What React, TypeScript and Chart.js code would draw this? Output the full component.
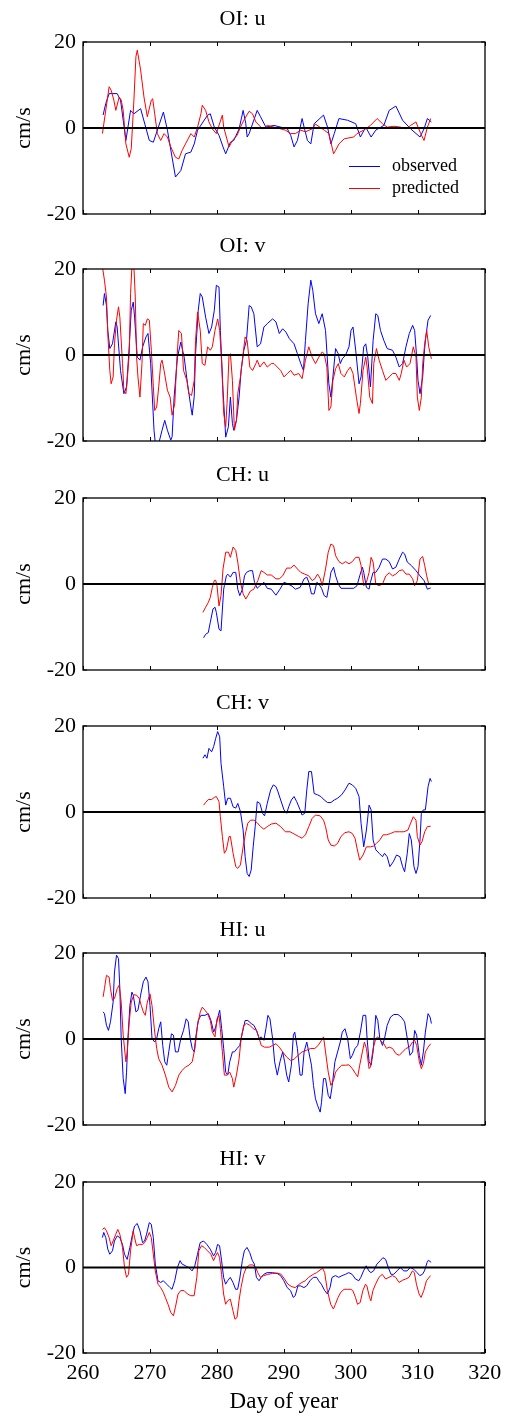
import React, { useEffect, useRef } from "react";
import { Chart, registerables } from "chart.js";

Chart.register(...registerables);

// ---------- data (day of year, cm/s) ----------
const panelTitles = ["OI: u", "OI: v", "CH: u", "CH: v", "HI: u", "HI: v"];
const seriesLabels = ["observed", "predicted"];
const xTickValues = [260, 270, 280, 290, 300, 310, 320];
const yTickValues = [-20, 0, 20];

const oiuObs: [number, number][] = [[263.0,3.0],[263.4,5.7],[263.9,8.0],[265.1,8.0],[265.6,6.5],[266.4,-2.9],[267.1,4.1],[267.6,3.3],[268.6,4.5],[269.9,-2.9],[270.5,-3.3],[272.0,3.7],[272.6,-0.5],[273.8,-11.4],[274.6,-9.9],[275.3,-6.0],[276.1,-5.6],[276.6,-3.7],[277.1,-0.5],[278.6,3.0],[279.0,3.3],[279.6,0.2],[280.3,-1.7],[280.9,-4.4],[281.3,-6.0],[282.0,-3.3],[282.5,-2.9],[283.3,-0.2],[283.9,4.1],[284.3,1.0],[284.5,-2.1],[284.8,-1.3],[286.0,4.1],[286.5,2.6],[287.3,0.2],[288.5,0.6],[290.5,-0.2],[291.0,-1.7],[291.5,-4.4],[292.0,-2.9],[292.7,2.2],[293.0,0.2],[293.5,-2.9],[294.0,-3.7],[294.5,1.0],[295.9,3.0],[296.5,0.2],[297.0,-3.7],[297.5,-1.3],[298.2,2.2],[299.5,1.8],[300.7,1.0],[301.4,-2.1],[302.2,0.2],[303.0,-2.1],[303.7,-0.5],[304.9,0.6],[305.7,4.1],[306.7,5.1],[307.7,1.8],[308.9,-0.2],[310.3,-2.1],[310.9,-0.2],[311.4,2.2],[312.0,1.4]];
const oiuPred: [number, number][] = [[262.9,-1.3],[263.9,9.6],[264.2,8.8],[264.6,6.5],[264.9,4.1],[265.4,7.2],[265.7,6.5],[266.0,4.1],[266.4,-3.7],[266.9,-6.8],[267.2,-4.8],[267.6,6.5],[267.9,16.6],[268.1,18.1],[268.6,13.5],[269.1,7.2],[269.6,2.6],[270.2,6.5],[270.4,6.8],[270.7,3.3],[271.1,-1.3],[271.6,-2.9],[272.1,-1.3],[272.6,-2.1],[273.1,-4.4],[273.8,-6.8],[274.3,-7.2],[274.8,-5.2],[275.3,-3.7],[276.1,-1.3],[276.6,-2.1],[277.1,0.2],[277.6,3.3],[277.8,5.3],[278.3,4.1],[278.8,1.4],[279.3,-0.2],[279.9,-1.3],[280.8,3.0],[281.0,0.2],[281.8,-4.4],[282.3,-2.9],[283.0,-1.7],[283.5,0.2],[284.0,1.8],[284.8,3.9],[285.3,3.3],[285.8,1.4],[286.8,-0.2],[287.5,0.6],[288.5,0.2],[289.5,-0.2],[290.2,-0.5],[291.0,-1.3],[291.7,-1.3],[292.5,-0.5],[293.2,-0.9],[294.2,-0.2],[294.7,0.9],[296.0,-0.5],[296.7,-1.3],[297.4,-6.0],[297.7,-5.2],[298.2,-3.7],[299.0,-2.5],[300.4,-2.1],[300.9,-1.3],[301.9,-0.5],[302.9,0.6],[303.9,2.2],[304.7,1.0],[305.4,0.2],[306.4,0.4],[307.4,0.2],[308.2,-0.2],[308.9,0.6],[309.7,1.4],[310.4,-1.3],[310.9,-2.9],[311.4,0.2],[311.9,2.2]];

const oivObs: [number, number][] = [[263.0,11.5],[263.2,14.3],[263.5,11.5],[263.7,5.7],[264.0,1.5],[264.4,2.6],[264.9,7.7],[265.1,6.5],[265.6,-3.6],[266.1,-9.0],[266.5,-7.4],[266.9,1.9],[267.2,10.4],[267.5,12.3],[267.7,8.8],[268.1,-0.5],[268.5,-1.2],[268.9,1.9],[269.4,4.2],[269.7,5.0],[270.1,-2.0],[270.6,-17.5],[270.8,-20.6],[271.3,-20.6],[271.8,-17.5],[272.2,-15.2],[272.6,-17.5],[273.1,-19.8],[273.3,-19.0],[273.6,-9.8],[274.1,-0.5],[274.6,3.0],[275.1,-0.5],[275.6,-6.7],[276.1,-12.1],[276.3,-14.0],[276.6,-9.6],[276.8,0.3],[277.2,10.4],[277.5,14.3],[277.8,13.5],[278.3,8.8],[278.8,5.0],[279.2,6.5],[279.6,10.4],[279.9,16.2],[280.3,15.8],[280.5,5.7],[280.9,-8.2],[281.3,-19.1],[281.7,-16.7],[282.0,-9.8],[282.3,-15.9],[282.5,-17.5],[282.9,-15.2],[283.3,-9.8],[283.6,-3.6],[284.0,1.1],[284.4,3.4],[284.8,11.5],[285.1,11.2],[285.5,9.6],[286.0,1.9],[286.5,2.6],[287.0,6.5],[287.5,7.3],[288.3,8.4],[288.8,7.7],[289.3,5.0],[289.8,6.1],[290.3,5.3],[290.8,3.8],[291.5,2.6],[292.0,0.3],[292.5,-2.0],[292.9,-3.6],[293.2,3.4],[293.6,11.9],[294.0,17.4],[294.3,15.0],[294.7,9.6],[295.2,7.3],[295.7,9.6],[296.2,5.7],[296.7,-6.7],[297.0,-9.8],[297.3,-5.1],[297.7,1.5],[298.1,0.3],[298.4,-2.0],[298.7,-0.9],[299.2,0.0],[299.7,1.9],[300.0,5.7],[300.3,6.5],[300.7,1.1],[301.2,-6.7],[301.5,-5.1],[301.9,1.9],[302.2,2.6],[302.5,-0.5],[302.9,-7.4],[303.3,3.4],[303.7,9.6],[304.0,9.2],[304.4,5.7],[304.9,3.4],[305.4,1.5],[306.2,1.1],[306.7,-0.5],[307.2,-2.8],[307.7,-2.0],[308.2,1.9],[308.7,5.0],[309.2,6.9],[309.5,5.7],[309.8,-0.5],[310.0,-5.9],[310.3,-9.0],[310.7,-5.1],[310.9,-0.5],[311.1,3.4],[311.5,8.1],[311.9,9.2]];
const oivPred: [number, number][] = [[262.9,20.5],[263.2,17.4],[263.5,13.5],[263.7,5.0],[264.0,-3.6],[264.2,-6.7],[264.5,-5.1],[264.7,2.6],[265.0,8.1],[265.3,11.2],[265.5,8.8],[265.9,-2.0],[266.1,-8.2],[266.4,-9.0],[266.6,-5.9],[266.9,0.3],[267.1,14.3],[267.3,20.5],[267.6,20.5],[267.8,13.5],[268.0,-0.5],[268.2,-5.1],[268.5,-9.8],[268.8,-2.0],[269.0,7.3],[269.3,6.9],[269.6,8.4],[269.9,8.1],[270.2,1.1],[270.5,-7.4],[270.7,-12.9],[271.0,-12.1],[271.3,-7.4],[271.6,-2.0],[271.8,-1.2],[272.1,-3.6],[272.6,-8.2],[273.0,-9.8],[273.3,-14.0],[273.7,-11.3],[274.0,-1.2],[274.3,5.7],[274.7,5.0],[275.0,-3.6],[275.5,-5.9],[275.8,-9.0],[276.2,-9.4],[276.6,-5.9],[276.8,3.4],[277.1,10.0],[277.5,5.7],[277.8,-2.0],[278.2,-2.4],[278.6,1.9],[279.0,1.1],[279.3,1.9],[279.7,5.7],[280.1,8.4],[280.4,5.7],[280.7,-2.0],[281.0,-13.6],[281.3,-16.7],[281.5,-11.3],[281.8,0.0],[282.0,0.3],[282.3,-5.9],[282.6,-17.5],[282.9,-15.2],[283.1,-9.0],[283.5,-5.1],[283.9,0.3],[284.2,4.2],[284.5,3.4],[284.9,-2.8],[285.3,-3.6],[285.8,-2.0],[286.0,-1.2],[286.4,-2.8],[287.0,-1.6],[287.5,-2.8],[288.1,-2.0],[288.5,-2.0],[289.0,-2.8],[289.5,-3.6],[290.0,-5.1],[290.5,-4.3],[291.0,-3.6],[291.5,-4.7],[292.2,-4.3],[292.7,-5.5],[293.2,-1.2],[293.7,1.9],[294.2,-0.5],[294.7,-2.0],[295.2,-0.5],[295.7,0.7],[296.0,0.3],[296.4,-2.8],[296.7,-12.9],[297.0,-12.1],[297.3,-5.9],[297.7,-3.2],[298.1,-2.0],[298.5,-4.3],[299.0,-5.1],[299.5,-3.6],[299.9,-2.8],[300.3,-4.3],[300.8,-9.8],[301.2,-13.6],[301.4,-11.3],[301.8,-3.6],[302.2,-0.5],[302.4,-2.8],[302.8,-9.8],[303.2,-11.3],[303.4,-2.0],[303.8,1.5],[304.2,-1.2],[304.7,-3.6],[305.2,-5.9],[305.7,-5.1],[306.2,-4.3],[306.7,-4.3],[307.2,-5.9],[307.5,-4.3],[307.9,-1.2],[308.3,-2.8],[308.8,-2.0],[309.3,1.9],[309.7,-0.5],[309.9,-9.8],[310.2,-12.9],[310.5,-9.8],[310.7,-2.0],[311.0,2.6],[311.3,5.7],[311.6,1.9],[312.0,-0.9]];

const chuObs: [number, number][] = [[278.0,-12.5],[278.3,-11.7],[278.7,-11.3],[279.0,-8.9],[279.4,-5.8],[279.7,-5.4],[279.9,-6.6],[280.3,-10.5],[280.6,-10.9],[281.0,-1.2],[281.1,-0.4],[281.4,1.9],[281.6,2.3],[282.0,1.6],[282.4,2.7],[282.8,2.7],[283.1,-1.2],[283.4,-2.7],[283.8,-1.2],[284.1,1.9],[284.4,2.7],[284.9,3.1],[285.3,3.1],[285.6,0.4],[286.0,-1.0],[286.4,-0.4],[287.0,0.4],[287.5,-1.0],[288.1,-1.2],[288.8,-2.6],[289.4,-1.2],[290.0,0.4],[290.6,0.0],[291.2,-0.5],[291.7,-1.2],[292.4,-0.8],[293.0,1.2],[293.4,1.6],[293.7,0.4],[294.1,-2.3],[294.5,-2.3],[294.9,0.4],[295.2,0.0],[295.6,-1.0],[296.0,-2.7],[296.4,-3.1],[296.7,-0.4],[297.0,2.7],[297.4,3.9],[297.7,1.9],[298.1,0.0],[298.5,-1.0],[299.7,-1.0],[300.4,-1.0],[300.9,-0.4],[301.3,1.9],[301.7,3.9],[301.9,2.7],[302.3,-0.8],[302.7,-1.2],[302.9,0.4],[303.3,2.7],[303.7,2.7],[304.2,3.9],[304.7,5.8],[305.2,5.8],[305.7,5.2],[306.2,3.5],[306.7,3.9],[307.2,5.8],[307.7,7.4],[308.0,7.0],[308.4,5.1],[309.0,4.3],[309.7,3.1],[310.3,1.9],[310.9,0.8],[311.4,-1.2],[311.9,-0.9]];
const chuPred: [number, number][] = [[277.9,-6.6],[278.3,-5.4],[278.7,-4.3],[279.0,-3.1],[279.3,-0.8],[279.6,0.8],[279.8,0.9],[280.0,-0.4],[280.3,-5.1],[280.6,-2.7],[280.9,3.5],[281.3,7.4],[281.7,7.4],[282.0,6.2],[282.4,8.6],[282.8,7.8],[283.1,5.1],[283.5,0.4],[283.9,-2.3],[284.3,-3.5],[284.6,-2.7],[285.0,-1.6],[285.5,-1.2],[286.1,0.8],[286.6,3.1],[287.0,2.7],[287.5,2.1],[288.1,2.1],[288.8,1.2],[289.3,1.2],[289.8,1.9],[290.4,3.7],[291.0,3.7],[291.5,4.4],[292.0,3.5],[292.5,2.7],[293.1,2.3],[293.7,1.9],[294.2,0.8],[294.6,1.2],[295.0,2.3],[295.4,1.3],[295.7,-0.4],[296.2,3.5],[296.6,7.4],[297.0,9.3],[297.4,8.9],[297.7,6.6],[298.2,5.2],[298.7,4.7],[299.2,5.2],[299.7,4.7],[300.2,5.2],[300.7,6.2],[301.2,6.2],[301.5,4.3],[301.9,-0.4],[302.3,0.4],[302.7,2.7],[303.0,6.2],[303.3,5.1],[303.7,0.0],[304.2,-0.4],[304.7,0.0],[305.2,1.9],[305.7,2.6],[306.2,1.9],[306.7,2.3],[307.2,3.1],[307.7,3.3],[308.2,2.3],[308.7,2.3],[309.2,1.2],[309.5,-0.4],[309.9,0.8],[310.3,5.8],[310.7,6.4],[311.0,4.3],[311.3,1.9],[311.6,0.0],[311.9,0.2]];

const chvObs: [number, number][] = [[277.9,12.5],[278.2,13.3],[278.5,12.5],[278.8,14.8],[279.2,14.0],[279.5,15.2],[279.8,17.1],[280.1,18.7],[280.4,17.5],[280.6,11.3],[281.0,5.9],[281.3,1.6],[281.6,3.2],[282.0,3.2],[282.4,1.2],[282.8,0.9],[283.1,2.0],[283.5,0.1],[283.9,-4.2],[284.2,-10.4],[284.5,-14.3],[284.8,-15.0],[285.1,-13.5],[285.4,-8.1],[285.7,-3.4],[286.0,2.4],[286.4,2.0],[286.8,-0.3],[287.1,-0.9],[287.5,2.0],[288.0,5.1],[288.4,6.3],[288.8,5.9],[289.1,4.7],[289.5,2.8],[290.0,0.5],[290.4,-0.3],[290.7,1.2],[291.1,2.8],[291.5,3.6],[291.9,2.4],[292.4,0.5],[292.7,-0.7],[293.1,-0.3],[293.4,5.1],[293.7,9.4],[294.1,9.4],[294.5,4.3],[295.0,4.0],[295.5,3.6],[296.0,2.8],[296.5,2.2],[297.0,2.2],[297.5,2.8],[298.0,3.2],[298.6,4.0],[299.1,5.1],[299.7,6.7],[300.2,6.3],[300.7,5.5],[301.2,3.6],[301.5,-2.6],[301.9,-8.1],[302.3,-4.2],[302.7,1.6],[303.0,0.5],[303.3,-6.5],[303.7,-8.8],[304.2,-9.6],[304.7,-10.4],[305.0,-9.6],[305.4,-10.4],[305.8,-12.7],[306.3,-11.6],[306.8,-10.0],[307.3,-10.4],[307.7,-12.7],[308.0,-13.9],[308.4,-9.6],[308.7,-5.0],[309.0,-6.5],[309.4,-12.7],[309.7,-14.3],[310.0,-12.7],[310.3,-6.5],[310.5,-0.3],[310.8,0.5],[311.1,0.5],[311.5,5.9],[311.8,7.8],[312.0,7.1]];
const chvPred: [number, number][] = [[278.0,1.6],[278.3,2.2],[278.7,2.9],[279.2,2.9],[279.6,3.4],[279.9,3.6],[280.3,2.4],[280.5,-1.1],[280.8,-5.7],[281.1,-9.6],[281.4,-8.8],[281.8,-5.7],[282.0,-5.7],[282.4,-9.6],[282.8,-12.7],[283.1,-13.1],[283.5,-12.3],[283.9,-8.1],[284.3,-4.6],[284.6,-2.6],[285.0,-1.9],[285.5,-1.9],[286.0,-2.5],[286.5,-3.4],[287.0,-4.0],[287.5,-3.4],[288.1,-2.8],[288.8,-2.6],[289.5,-3.4],[290.2,-4.6],[290.9,-4.6],[291.5,-5.1],[292.2,-5.7],[292.7,-6.1],[293.2,-5.3],[293.7,-3.4],[294.2,-1.5],[294.7,-0.7],[295.4,-0.9],[295.9,-1.9],[296.2,-3.4],[296.6,-6.5],[297.0,-7.7],[297.5,-7.9],[298.0,-7.3],[298.5,-5.7],[299.1,-4.8],[299.7,-4.6],[300.2,-5.0],[300.6,-6.1],[300.9,-8.4],[301.3,-11.2],[301.8,-10.0],[302.3,-8.1],[302.9,-8.1],[303.4,-7.9],[303.8,-7.3],[304.3,-6.5],[304.8,-5.3],[305.3,-5.3],[305.9,-5.0],[306.5,-4.6],[307.2,-4.6],[307.9,-4.6],[308.5,-4.2],[308.9,-2.6],[309.3,-1.1],[309.7,-1.9],[309.9,-5.7],[310.3,-7.7],[310.6,-6.9],[311.0,-4.6],[311.4,-3.4],[311.9,-3.3]];

const hiuObs: [number, number][] = [[263.0,6.3],[263.2,5.9],[263.5,3.2],[263.8,2.0],[264.1,4.0],[264.5,8.6],[264.7,15.6],[265.0,19.5],[265.3,18.7],[265.5,11.7],[265.7,0.1],[266.0,-9.2],[266.3,-12.7],[266.5,-7.7],[266.7,0.0],[267.0,7.8],[267.3,10.9],[267.5,10.2],[267.9,6.3],[268.2,6.7],[268.6,10.2],[269.0,13.3],[269.4,14.4],[269.7,13.3],[270.0,7.8],[270.3,0.1],[270.7,-0.7],[271.0,0.1],[271.3,2.4],[271.6,4.0],[271.9,-1.5],[272.2,-5.3],[272.5,-6.1],[272.8,-3.0],[273.2,1.2],[273.5,0.9],[273.8,-3.0],[274.2,-3.0],[274.6,0.1],[275.0,2.0],[275.4,4.7],[275.7,4.0],[276.0,0.1],[276.3,-2.2],[276.6,-3.0],[276.8,0.1],[277.2,4.3],[277.6,5.5],[278.2,5.5],[278.7,5.9],[279.1,4.3],[279.5,1.6],[279.8,2.8],[280.2,5.5],[280.4,6.7],[280.7,2.4],[281.0,-2.2],[281.3,-7.7],[281.6,-8.4],[281.9,-5.3],[282.3,-3.0],[282.6,-3.0],[283.0,-2.2],[283.4,-1.5],[283.8,1.6],[284.2,4.3],[284.6,4.3],[285.1,3.6],[285.5,3.2],[285.9,2.0],[286.3,0.1],[286.6,0.5],[287.0,-0.3],[287.3,2.4],[287.6,5.5],[287.9,4.7],[288.3,0.1],[288.6,-5.3],[289.0,-8.4],[289.4,-5.3],[289.8,-3.0],[290.1,-5.3],[290.4,-8.4],[290.7,-10.0],[291.1,-6.1],[291.4,0.9],[291.6,1.6],[292.0,-2.2],[292.4,-8.4],[292.7,-8.4],[293.0,-3.0],[293.4,-0.7],[293.7,-3.0],[294.1,-6.1],[294.4,-10.8],[294.7,-13.9],[295.0,-15.4],[295.4,-17.0],[295.6,-14.7],[295.9,-9.2],[296.2,-9.2],[296.6,-13.1],[296.9,-13.9],[297.2,-10.8],[297.6,-5.3],[298.0,-3.0],[298.4,-0.7],[298.7,1.6],[299.1,2.4],[299.5,0.1],[299.9,-4.6],[300.2,-3.8],[300.6,-2.2],[301.0,-1.5],[301.4,1.6],[301.8,5.5],[302.2,5.5],[302.4,0.1],[302.7,-5.3],[303.0,-6.1],[303.3,-3.0],[303.7,5.5],[304.0,4.3],[304.3,0.1],[304.7,-1.5],[305.0,0.1],[305.4,3.2],[305.9,5.1],[306.4,5.7],[307.0,5.7],[307.5,5.1],[308.0,4.0],[308.4,0.1],[308.8,-3.8],[309.2,-3.0],[309.5,2.0],[309.8,0.9],[310.2,-3.8],[310.5,-6.1],[310.8,-3.0],[311.1,1.6],[311.5,5.9],[311.8,5.1],[312.0,3.6]];
const hiuPred: [number, number][] = [[263.0,9.8],[263.2,11.7],[263.5,14.8],[263.9,14.4],[264.1,11.7],[264.4,9.0],[264.7,9.4],[265.1,11.7],[265.4,12.5],[265.7,8.6],[266.0,0.9],[266.4,-5.3],[266.6,-3.0],[266.9,4.0],[267.2,8.6],[267.6,10.3],[268.0,10.2],[268.4,9.4],[268.7,7.8],[269.0,6.3],[269.3,5.5],[269.6,8.6],[270.0,10.5],[270.3,7.8],[270.7,1.6],[271.0,-2.2],[271.3,-4.6],[271.8,-6.1],[272.3,-8.4],[272.8,-11.2],[273.3,-12.3],[273.8,-10.8],[274.3,-8.4],[274.8,-7.3],[275.3,-6.5],[275.8,-6.1],[276.3,-5.3],[276.7,-2.2],[277.1,3.2],[277.5,6.3],[277.8,7.4],[278.2,6.7],[278.6,5.9],[279.0,4.3],[279.3,1.6],[279.7,0.5],[280.0,4.7],[280.3,5.5],[280.5,2.4],[280.8,-3.0],[281.1,-8.4],[281.5,-8.4],[281.9,-7.7],[282.3,-9.2],[282.5,-11.2],[282.9,-8.4],[283.3,-4.6],[283.6,0.1],[284.0,3.2],[284.4,3.6],[284.9,3.2],[285.4,2.4],[285.9,2.0],[286.3,0.1],[286.6,-1.5],[287.1,-1.9],[287.8,-1.9],[288.3,-1.5],[288.8,-1.1],[289.3,-1.9],[289.8,-3.0],[290.4,-4.2],[291.0,-5.0],[291.5,-4.7],[292.1,-3.8],[292.7,-3.0],[293.4,-2.6],[294.0,-2.2],[294.6,-2.2],[295.1,-1.5],[295.6,-0.3],[295.9,0.5],[296.2,-3.0],[296.6,-7.7],[297.0,-10.8],[297.4,-9.6],[297.7,-7.7],[298.1,-6.9],[298.6,-6.1],[299.2,-6.1],[299.7,-6.0],[300.2,-6.9],[300.7,-8.1],[301.0,-8.8],[301.3,-6.1],[301.7,-3.0],[302.0,-0.7],[302.3,-2.2],[302.7,-6.9],[302.9,-6.5],[303.3,-2.2],[303.7,0.1],[304.0,0.5],[304.4,-0.3],[304.9,-1.1],[305.3,-2.2],[305.7,-1.9],[306.2,-2.2],[306.7,-3.4],[307.2,-3.8],[307.7,-3.0],[308.2,-2.2],[308.7,-1.9],[309.2,-0.7],[309.5,-0.3],[309.8,-1.5],[310.2,-5.3],[310.5,-6.9],[310.8,-5.7],[311.1,-3.0],[311.5,-1.9],[311.9,-1.1]];

const hivObs: [number, number][] = [[262.9,7.0],[263.1,8.2],[263.4,7.0],[263.7,4.3],[264.0,3.1],[264.4,3.9],[264.7,6.2],[265.1,7.4],[265.5,7.0],[265.9,5.4],[266.2,3.1],[266.6,1.9],[267.0,4.7],[267.4,7.8],[267.7,9.7],[268.1,10.3],[268.5,8.6],[268.9,5.8],[269.2,6.2],[269.5,7.8],[269.9,10.5],[270.2,10.1],[270.5,7.0],[270.8,0.8],[271.2,-3.1],[271.6,-3.5],[272.0,-3.1],[272.5,-3.9],[273.0,-4.7],[273.3,-5.1],[273.7,-3.1],[274.1,0.0],[274.5,1.6],[274.8,0.8],[275.3,0.4],[275.8,0.0],[276.3,-0.8],[276.7,0.4],[277.1,3.1],[277.5,5.8],[278.0,6.2],[278.5,5.4],[279.0,4.3],[279.5,2.7],[279.8,3.5],[280.1,5.4],[280.4,5.1],[280.7,1.6],[281.0,-2.3],[281.3,-3.9],[281.6,-3.1],[282.0,-2.3],[282.4,-3.5],[282.8,-5.1],[283.1,-5.1],[283.4,-2.7],[283.8,1.6],[284.1,3.9],[284.5,4.7],[284.9,3.5],[285.3,1.6],[285.6,0.8],[285.9,-2.3],[286.3,-3.1],[286.6,-2.3],[287.0,-1.6],[287.5,-1.2],[288.3,-1.2],[289.0,-1.4],[289.5,-1.9],[290.0,-3.1],[290.5,-4.7],[291.0,-5.4],[291.4,-7.0],[291.7,-6.6],[292.1,-4.3],[292.5,-4.3],[293.0,-4.7],[293.4,-4.3],[293.9,-3.1],[294.4,-2.3],[294.9,-2.3],[295.2,-3.1],[295.6,-3.9],[296.1,-5.4],[296.5,-6.2],[296.9,-4.7],[297.2,-2.3],[297.7,-1.9],[298.2,-2.3],[298.7,-1.9],[299.2,-1.6],[299.7,-1.2],[300.2,-1.6],[300.7,-2.7],[301.2,-3.1],[301.5,-2.3],[301.9,-0.8],[302.3,0.4],[302.7,-0.8],[303.0,-1.2],[303.4,-0.8],[303.9,0.8],[304.4,1.6],[304.8,2.3],[305.2,1.9],[305.6,0.0],[306.0,-1.6],[306.4,-1.6],[306.9,-0.8],[307.4,0.0],[307.9,-0.8],[308.4,-0.8],[308.9,0.0],[309.4,-0.4],[309.9,-1.2],[310.3,-1.9],[310.7,-1.6],[311.0,-0.8],[311.4,1.2],[311.6,1.7],[312.0,1.2]];
const hivPred: [number, number][] = [[262.9,8.9],[263.2,9.3],[263.5,8.6],[263.9,7.0],[264.2,5.1],[264.5,6.2],[264.9,7.8],[265.2,8.9],[265.5,7.8],[265.9,4.7],[266.2,0.0],[266.5,-2.3],[266.8,-1.6],[267.1,3.9],[267.5,8.6],[267.7,7.0],[268.0,5.1],[268.4,5.4],[268.9,5.4],[269.2,5.8],[269.6,7.0],[269.9,8.2],[270.2,7.0],[270.5,3.1],[270.8,-0.8],[271.2,-3.9],[271.6,-4.7],[272.0,-5.8],[272.3,-7.0],[272.7,-8.6],[273.1,-10.5],[273.5,-11.3],[273.8,-9.3],[274.2,-6.2],[274.6,-5.4],[275.1,-5.4],[275.6,-6.2],[276.1,-6.6],[276.6,-6.6],[277.0,-2.3],[277.3,3.9],[277.7,5.1],[278.1,4.7],[278.6,3.9],[279.1,3.1],[279.5,1.6],[279.8,2.7],[280.1,3.5],[280.4,2.3],[280.7,-1.6],[281.0,-6.2],[281.3,-8.6],[281.6,-7.8],[282.0,-7.4],[282.4,-10.1],[282.7,-12.1],[283.0,-11.7],[283.3,-7.8],[283.6,-4.7],[284.0,-1.6],[284.4,0.0],[284.9,0.6],[285.4,0.6],[285.8,0.0],[286.1,-1.2],[286.5,-2.3],[287.0,-1.9],[287.6,-1.6],[288.3,-1.4],[289.0,-1.3],[289.6,-1.6],[290.1,-2.7],[290.6,-3.9],[291.2,-4.5],[291.7,-4.7],[292.2,-4.0],[292.7,-3.5],[293.2,-3.1],[293.7,-2.3],[294.4,-1.6],[294.9,-1.2],[295.4,-0.6],[295.8,-0.2],[296.1,-1.2],[296.5,-5.4],[297.0,-8.6],[297.4,-9.7],[297.7,-8.6],[298.1,-7.0],[298.5,-5.8],[299.0,-5.1],[299.5,-5.1],[300.0,-5.1],[300.3,-5.4],[300.7,-7.0],[301.0,-8.6],[301.4,-8.2],[301.8,-5.4],[302.2,-3.9],[302.4,-4.3],[302.8,-7.0],[303.0,-7.8],[303.3,-5.4],[303.7,-3.9],[304.2,-2.3],[304.7,-1.6],[305.2,-2.7],[305.7,-2.3],[306.2,-1.9],[306.7,-2.3],[307.2,-3.5],[307.7,-3.0],[308.2,-2.7],[308.7,-2.3],[309.2,-0.8],[309.5,-1.2],[309.8,-3.9],[310.2,-6.2],[310.5,-7.0],[310.9,-5.4],[311.3,-3.1],[311.9,-1.9]];

const observedSeries = [oiuObs, oivObs, chuObs, chvObs, hiuObs, hivObs];
const predictedSeries = [oiuPred, oivPred, chuPred, chvPred, hiuPred, hivPred];

// ---------- layout / style ----------
const FONT = "'Liberation Serif', 'Times New Roman', Times, serif";
const W = 508;
const PAGE_H = 1418;
const PLOT_TOPS = [42, 269, 498, 726, 953, 1182];
const TITLE_SPACE = 42;
const PLOT_H = 172;
const BOTTOM_PAD = 12;
const X_AXIS_H = 65;
const LAST_H = PAGE_H - (PLOT_TOPS[5] - TITLE_SPACE);
const BLUE = "#0000ff";
const RED = "#ff0000";

const framePlugin = {
  id: "frameAndZero",
  afterDatasetsDraw(chart: any) {
    const { ctx, chartArea, scales } = chart;
    const { left, right, top, bottom } = chartArea;
    const xs = scales.x;
    const ys = scales.y;
    ctx.save();
    ctx.strokeStyle = "#000";
    const y0 = ys.getPixelForValue(0);
    ctx.lineWidth = 2.2;
    ctx.beginPath();
    ctx.moveTo(left, y0);
    ctx.lineTo(right, y0);
    ctx.stroke();
    ctx.lineWidth = 1.3;
    ctx.strokeRect(left, top, right - left, bottom - top);
    ctx.lineWidth = 1;
    ctx.beginPath();
    xs.ticks.forEach((t: any) => {
      const px = Math.round(xs.getPixelForValue(t.value)) + 0.5;
      ctx.moveTo(px, bottom);
      ctx.lineTo(px, bottom - 4);
      ctx.moveTo(px, top);
      ctx.lineTo(px, top + 4);
    });
    ys.ticks.forEach((t: any) => {
      const py = ys.getPixelForValue(t.value);
      ctx.moveTo(left, py);
      ctx.lineTo(left + 4, py);
      ctx.moveTo(right, py);
      ctx.lineTo(right - 4, py);
    });
    ctx.stroke();
    ctx.restore();
  },
};

const legendPlugin = {
  id: "insideLegend",
  afterDatasetsDraw(chart: any, _args: any, opts: any) {
    if (!opts || !opts.show) return;
    const { ctx, chartArea } = chart;
    const { right, bottom } = chartArea;
    const ds = chart.data.datasets;
    const rows = [
      { ds: ds[1], lineY: bottom - 48, textY: bottom - 43 },
      { ds: ds[0], lineY: bottom - 26, textY: bottom - 21 },
    ];
    ctx.save();
    ctx.font = `18px ${FONT}`;
    ctx.textAlign = "left";
    ctx.textBaseline = "alphabetic";
    rows.forEach((r) => {
      ctx.strokeStyle = r.ds.borderColor;
      ctx.lineWidth = 1;
      ctx.beginPath();
      ctx.moveTo(right - 136, r.lineY + 0.5);
      ctx.lineTo(right - 105, r.lineY + 0.5);
      ctx.stroke();
      ctx.fillStyle = "#000";
      ctx.fillText(r.ds.label, right - 93, r.textY);
    });
    ctx.restore();
  },
};

function toPoints(arr: [number, number][]) {
  return arr.map(([x, y]) => ({ x, y }));
}

function Panel({ index }: { index: number }) {
  const ref = useRef<HTMLCanvasElement | null>(null);
  const isLast = index === panelTitles.length - 1;
  const height = isLast ? LAST_H : TITLE_SPACE + PLOT_H + BOTTOM_PAD;
  const top = PLOT_TOPS[index] - TITLE_SPACE;

  useEffect(() => {
    if (!ref.current) return;
    const chart = new Chart(ref.current, {
      type: "line",
      data: {
        datasets: [
          {
            label: seriesLabels[1],
            data: toPoints(predictedSeries[index]),
            borderColor: RED,
            borderWidth: 1,
            pointRadius: 0,
            tension: 0,
            fill: false,
            order: 1,
          },
          {
            label: seriesLabels[0],
            data: toPoints(observedSeries[index]),
            borderColor: BLUE,
            borderWidth: 1,
            pointRadius: 0,
            tension: 0,
            fill: false,
            order: 2,
          },
        ],
      },
      options: {
        responsive: false,
        maintainAspectRatio: false,
        animation: false,
        devicePixelRatio: 1,
        layout: { padding: { left: 0, right: 23, top: 0, bottom: isLast ? 0 : BOTTOM_PAD } },
        plugins: {
          legend: { display: false },
          tooltip: { enabled: false },
          title: {
            display: true,
            text: panelTitles[index],
            color: "#000",
            font: { family: FONT, size: 22, weight: "normal", lineHeight: 1.2 },
            padding: { top: 5.6, bottom: 10 },
          },
          insideLegend: { show: index === 0 },
        } as any,
        scales: {
          x: {
            type: "linear",
            min: xTickValues[0],
            max: xTickValues[xTickValues.length - 1],
            afterBuildTicks: (scale: any) => {
              scale.ticks = xTickValues.map((v) => ({ value: v }));
            },
            afterFit: (scale: any) => {
              scale.height = isLast ? X_AXIS_H : 0;
              scale.paddingTop = 0;
              scale.paddingBottom = 0;
            },
            grid: { display: false, drawTicks: false },
            border: { display: false },
            ticks: {
              display: isLast,
              color: "#000",
              padding: 6.8,
              maxRotation: 0,
              autoSkip: false,
              font: { family: FONT, size: 22, lineHeight: 1.2 },
            },
            title: {
              display: isLast,
              text: "Day of year",
              color: "#000",
              font: { family: FONT, size: 23, lineHeight: 1.2 },
              padding: { top: 1.5, bottom: 2.7 },
            },
          },
          y: {
            type: "linear",
            min: yTickValues[0],
            max: yTickValues[yTickValues.length - 1],
            afterBuildTicks: (scale: any) => {
              scale.ticks = yTickValues.map((v) => ({ value: v }));
            },
            afterFit: (scale: any) => {
              scale.width = 83;
              scale.paddingTop = 0;
              scale.paddingBottom = 0;
            },
            grid: { display: false, drawTicks: false },
            border: { display: false },
            ticks: {
              color: "#000",
              padding: 7,
              font: { family: FONT, size: 22, lineHeight: 1.2 },
            },
            title: {
              display: true,
              text: "cm/s",
              color: "#000",
              font: { family: FONT, size: 22, lineHeight: 1.2 },
              padding: { top: 11.4, bottom: 0 },
            },
          },
        },
      } as any,
      plugins: [framePlugin, legendPlugin],
    });
    return () => chart.destroy();
  }, [index]);

  return (
    <canvas
      ref={ref}
      width={W}
      height={height}
      style={{ position: "absolute", left: 0, top, width: W, height, display: "block" }}
    />
  );
}

export default function App() {
  return (
    <div
      style={{
        position: "absolute",
        left: 0,
        top: 0,
        width: W,
        height: PAGE_H,
        background: "#fff",
        overflow: "hidden",
      }}
    >
      {panelTitles.map((_, i) => (
        <Panel key={i} index={i} />
      ))}
    </div>
  );
}
